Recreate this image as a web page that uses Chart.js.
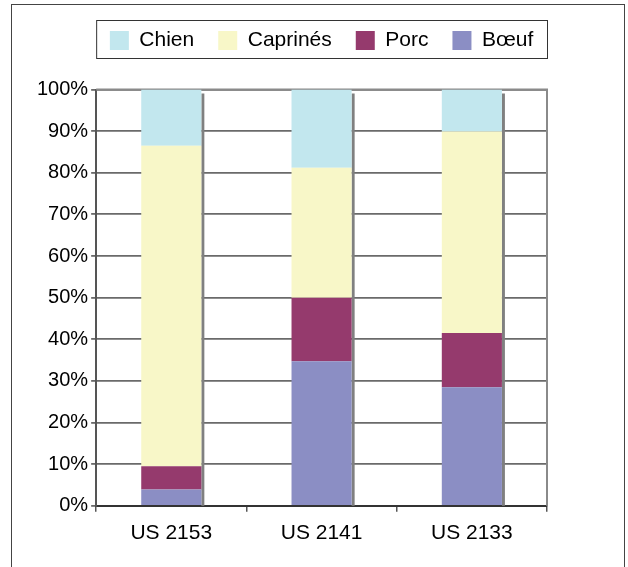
<!DOCTYPE html>
<html>
<head>
<meta charset="utf-8">
<script src="https://cdn.jsdelivr.net/npm/chart.js@4/dist/chart.umd.min.js"></script>
<style>
    body { margin: 0; background: #fff; }
    #frame { position: absolute; left: 11px; top: 4px; width: 612px; height: 700px; border: 1px solid #444; }
    #faune { position: absolute; left: 0; top: 0; }
</style>
</head>
<body>
<div id="frame"></div>
<canvas id="faune" width="628" height="567"></canvas>
<script>
// valeurs (%)
const categories = ['US 2153', 'US 2141', 'US 2133'];
const boeuf = [3.9, 34.7, 28.5];
const porc = [5.6, 15.3, 13.0];
const caprines = [77.0, 31.2, 48.4];
const chien = [13.5, 18.8, 10.1];
const yTicks = [0, 10, 20, 30, 40, 50, 60, 70, 80, 90, 100];

const police = "'Liberation Sans', Arial, sans-serif";

// cadre du graphe, ombre des barres, cadre de la legende
const decor = {
    id: 'decor',
    afterInit(chart) {
        let legend = chart.legend;
        let fit = legend.fit;
        legend.fit = function () {
            this.maxWidth = chart.width; // une seule ligne
            fit.call(this);
            this.height = 83.5;
        };
    },
    afterLayout(chart) {
        // legende centree sur la zone de trace, avec de la marge pour ne pas passer a la ligne
        let area = chart.chartArea;
        chart.legend.left = area.left - 60;
        chart.legend.right = area.right + 60;
        chart.legend.width = chart.legend.right - chart.legend.left;
    },
    beforeDatasetsDraw(chart) {
        let ctx = chart.ctx;
        let area = chart.chartArea;
        ctx.save();
        ctx.strokeStyle = '#8a8a8a';
        ctx.lineWidth = 2;
        ctx.beginPath();
        ctx.moveTo(area.left, area.top);
        ctx.lineTo(area.right, area.top);
        ctx.lineTo(area.right, area.bottom);
        ctx.stroke();

        let base = chart.scales.y.getPixelForValue(0);
        let haut = chart.getDatasetMeta(chart.data.datasets.length - 1);
        ctx.fillStyle = '#808080';
        haut.data.forEach(function (bar) {
            let x = bar.x + bar.width / 2;
            ctx.fillRect(x, bar.y + 4, 3, base - bar.y - 4);
        });
        ctx.restore();
    },
    afterDraw(chart) {
        let ctx = chart.ctx;
        let area = chart.chartArea;
        ctx.save();
        ctx.strokeStyle = '#333';
        ctx.lineWidth = 1;
        ctx.strokeRect(area.left + 0.5, 20.5, area.right - area.left, 38);
        ctx.restore();
    }
};

let faune = document.getElementById('faune').getContext('2d');

new Chart(faune, {
    type: 'bar',

    data: {
        labels: categories,
        datasets: [
            {label: 'Bœuf', data: boeuf, backgroundColor: '#8B8EC4'},
            {label: 'Porc', data: porc, backgroundColor: '#953A6D'},
            {label: 'Caprinés', data: caprines, backgroundColor: '#F8F7C8'},
            {label: 'Chien', data: chien, backgroundColor: '#C2E7EE'}
        ]
    },

    options: {
        responsive: false,
        animation: false,
        devicePixelRatio: 1,
        layout: {padding: {left: 34, right: 81, top: 6, bottom: 12}},
        datasets: {
            bar: {barPercentage: 0.4, categoryPercentage: 1, borderWidth: 0}
        },
        plugins: {
            tooltip: {enabled: false},
            legend: {
                reverse: true,
                labels: {
                    boxWidth: 19,
                    boxHeight: 19,
                    padding: 24,
                    color: '#000',
                    font: {family: police, size: 21}
                }
            }
        },
        scales: {
            x: {
                stacked: true,
                grid: {display: true, drawOnChartArea: false, offset: true, tickLength: 6, color: '#555', lineWidth: 1.5},
                border: {color: '#333', width: 2},
                ticks: {color: '#000', padding: 9, font: {family: police, size: 21}}
            },
            y: {
                stacked: true,
                min: 0,
                max: 100,
                afterBuildTicks: function (scale) {
                    scale.ticks = yTicks.map(v => ({value: v}));
                },
                grid: {color: '#6a6a6a', lineWidth: 1.8, tickLength: 5},
                border: {color: '#555', width: 2},
                ticks: {
                    color: '#000',
                    padding: 3,
                    font: {family: police, size: 20},
                    callback: v => v + '%'
                }
            }
        }
    },

    plugins: [decor]
});
</script>
</body>
</html>
